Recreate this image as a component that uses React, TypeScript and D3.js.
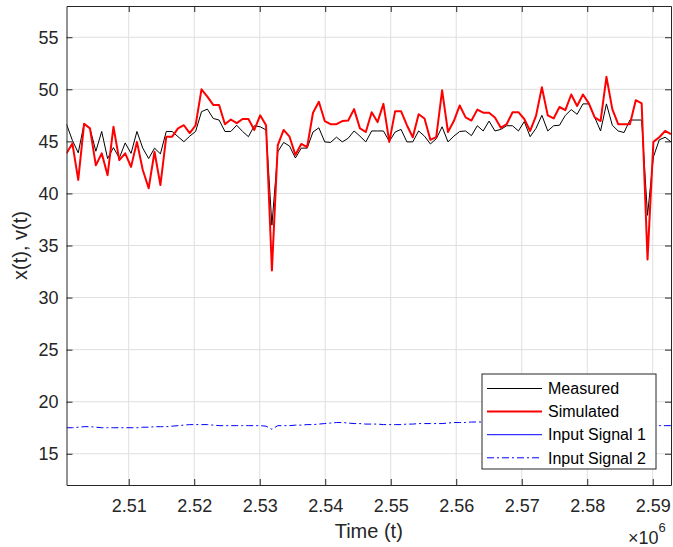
import React, { useEffect, useRef } from 'react';
import * as d3 from 'd3';

// sample times: one point every ~896 s starting at 2.5005e6
const startTime = 2500500;
const timeStep = 896;

const measured = [
  46.65, 45.1, 43.9, 46.7, 46.25, 44.05, 45.95, 43.35, 44.4, 43.4,
  44.85, 43.85, 45.95, 44.35, 43.35, 44.35, 43.8, 45.95, 45.95, 45.45,
  44.97, 45.5, 45.95, 47.85, 48.1, 47.2, 47.05, 45.95, 45.95, 46.55,
  45.95, 45.45, 46.5, 46.4, 46.1, 36.95, 44.0, 44.9, 44.55, 43.4,
  44.35, 44.35, 45.9, 46.3, 44.95, 44.9, 45.4, 44.95, 45.3, 46.0,
  45.5, 44.95, 46.0, 46.0, 46.0, 45.0, 45.9, 46.15, 44.95, 44.95,
  46.0, 45.5, 44.75, 45.25, 46.4, 44.95, 45.5, 45.95, 46.0, 45.55,
  46.5, 46.0, 46.95, 46.0, 46.15, 46.5, 46.5, 46.0, 46.9, 45.45,
  46.25, 47.5, 46.0, 46.5, 46.55, 47.5, 48.05, 47.6, 48.6, 48.6,
  47.3, 46.0, 48.6, 46.55, 46.0, 45.85, 47.05, 47.05, 47.05, 37.9,
  43.5, 45.15, 45.4, 44.95,
];

const simulated = [
  43.85, 44.8, 41.3, 46.7, 46.25, 42.7, 43.85, 41.75, 46.4, 43.2,
  43.85, 42.55, 44.95, 42.25, 40.5, 44.0, 40.8, 45.45, 45.45, 46.25,
  46.55, 45.8, 46.55, 50.0, 49.3, 48.5, 48.5, 46.65, 47.1, 46.75,
  47.15, 47.15, 46.1, 47.5, 46.55, 32.6, 44.65, 46.1, 45.45, 43.7,
  44.75, 44.45, 47.75, 48.8, 46.95, 46.65, 46.65, 46.95, 47.0, 48.1,
  46.25, 45.9, 47.8, 46.85, 48.6, 44.95, 47.9, 47.9, 46.55, 45.4,
  47.6, 47.2, 45.15, 45.4, 49.9, 45.9, 46.95, 48.45, 47.3, 47.0,
  48.05, 47.75, 47.75, 47.3, 46.3, 46.65, 47.8, 47.8, 47.15, 46.0,
  47.45, 50.2, 47.5, 47.2, 48.3, 48.0, 49.5, 48.4, 49.5, 48.65,
  47.3, 46.95, 51.2, 48.1, 46.65, 46.65, 46.65, 48.95, 48.65, 33.65,
  44.95, 45.4, 46.0, 45.7,
];

// input signal 1 never shows inside the visible y range
const input1: number[] = [];

const input2 = [
  17.5, 17.5, 17.55, 17.6, 17.6, 17.55, 17.5, 17.5, 17.5, 17.5,
  17.5, 17.5, 17.5, 17.55, 17.55, 17.6, 17.6, 17.6, 17.65, 17.7,
  17.75, 17.8, 17.8, 17.8, 17.8, 17.75, 17.7, 17.7, 17.7, 17.7,
  17.7, 17.7, 17.7, 17.7, 17.65, 17.35, 17.7, 17.7, 17.7, 17.75,
  17.75, 17.8, 17.8, 17.85, 17.9, 17.95, 18.0, 18.0, 17.95, 17.9,
  17.9, 17.85, 17.85, 17.85, 17.8, 17.8, 17.8, 17.8, 17.85, 17.85,
  17.9, 17.9, 17.9, 17.9, 17.9, 17.95, 18.0, 18.0, 18.0, 18.05,
  18.05, 18.05, 18.0, 18.0, 18.0, 17.95, 17.95, 17.9, 17.9, 17.9,
  17.9, 17.85, 17.85, 17.85, 17.8, 17.8, 17.8, 17.8, 17.8, 17.75,
  17.75, 17.75, 17.75, 17.75, 17.7, 17.7, 17.7, 17.7, 17.7, 17.7,
  17.7, 17.7, 17.7, 17.7,
];

const xTicks = [2.51e6, 2.52e6, 2.53e6, 2.54e6, 2.55e6, 2.56e6, 2.57e6, 2.58e6, 2.59e6];
const yTicks = [15, 20, 25, 30, 35, 40, 45, 50, 55];
const legendLabels = ['Measured', 'Simulated', 'Input Signal 1', 'Input Signal 2'];

const width = 673, height = 547;
const left = 66.5, right = 671, top = 6, bottom = 485;
const font = '"Liberation Sans", Arial, sans-serif';
const axisColor = '#262626';

function Chart() {
  const ref = useRef<SVGSVGElement>(null);

  useEffect(() => {
    const svg = d3.select(ref.current);
    svg.selectAll('*').remove();

    const times = measured.map((_, i) => startTime + i * timeStep);

    const x = d3.scaleLinear()
      .domain(d3.extent(times) as [number, number])
      .range([left, right]);
    const y = d3.scaleLinear()
      .domain([12, 58])
      .range([bottom, top]);

    svg.append('rect')
      .attr('x', left).attr('y', top)
      .attr('width', right - left).attr('height', bottom - top)
      .attr('fill', '#fff');

    svg.append('clipPath').attr('id', 'plotclip')
      .append('rect')
        .attr('x', left).attr('y', top)
        .attr('width', right - left).attr('height', bottom - top);

    // grid
    const grid = svg.append('g').attr('stroke', '#dfdfdf').attr('stroke-width', 1);
    grid.selectAll('.gx').data(xTicks).enter().append('line')
      .attr('x1', d => x(d)).attr('x2', d => x(d))
      .attr('y1', top).attr('y2', bottom);
    grid.selectAll('.gy').data(yTicks).enter().append('line')
      .attr('x1', left).attr('x2', right)
      .attr('y1', d => y(d)).attr('y2', d => y(d));

    // series
    const plot = svg.append('g').attr('clip-path', 'url(#plotclip)');
    const line = d3.line<number>()
      .x((_, i) => x(times[i]))
      .y(d => y(d));

    plot.append('path').datum(input2)
      .attr('d', line)
      .attr('fill', 'none')
      .attr('stroke', '#0000ff')
      .attr('stroke-width', 1)
      .attr('stroke-dasharray', '7,3,2,3');
    plot.append('path').datum(input1)
      .attr('d', line)
      .attr('fill', 'none')
      .attr('stroke', '#0000ff')
      .attr('stroke-width', 1);
    plot.append('path').datum(measured)
      .attr('d', line)
      .attr('fill', 'none')
      .attr('stroke', '#000')
      .attr('stroke-width', 1);
    plot.append('path').datum(simulated)
      .attr('d', line)
      .attr('fill', 'none')
      .attr('stroke', '#ff0000')
      .attr('stroke-width', 2)
      .attr('stroke-linejoin', 'round');

    // axes (ticks point inward, like matlab)
    const styleAxis = (g: any) => {
      g.select('.domain').attr('stroke', axisColor);
      g.selectAll('.tick line').attr('stroke', axisColor);
      g.selectAll('.tick text')
        .attr('fill', axisColor)
        .style('font-family', font)
        .style('font-size', '18px');
    };

    svg.append('g')
      .attr('transform', `translate(0,${bottom})`)
      .call(d3.axisBottom(x).tickValues(xTicks).tickSizeInner(-6).tickSizeOuter(0).tickPadding(14)
        .tickFormat(d => (+d / 1e6).toFixed(2)))
      .call(styleAxis);
    svg.append('g')
      .attr('transform', `translate(0,${top})`)
      .call(d3.axisTop(x).tickValues(xTicks).tickSizeInner(-6).tickSizeOuter(0).tickFormat(() => ''))
      .call(styleAxis);
    svg.append('g')
      .attr('transform', `translate(${left},0)`)
      .call(d3.axisLeft(y).tickValues(yTicks).tickSizeInner(-6).tickSizeOuter(0).tickPadding(8))
      .call(styleAxis);
    svg.append('g')
      .attr('transform', `translate(${right},0)`)
      .call(d3.axisRight(y).tickValues(yTicks).tickSizeInner(-6).tickSizeOuter(0).tickFormat(() => ''))
      .call(styleAxis);

    // axis labels
    svg.append('text')
      .attr('x', (left + right) / 2).attr('y', 538)
      .attr('text-anchor', 'middle')
      .attr('fill', axisColor)
      .style('font-family', font).style('font-size', '20px')
      .text('Time (t)');
    svg.append('text')
      .attr('transform', `translate(27,${(top + bottom) / 2}) rotate(-90)`)
      .attr('text-anchor', 'middle')
      .attr('fill', axisColor)
      .style('font-family', font).style('font-size', '20px')
      .text('x(t), v(t)');

    const expo = svg.append('text')
      .attr('x', 628).attr('y', 544)
      .attr('fill', axisColor)
      .style('font-family', font).style('font-size', '18px');
    expo.append('tspan').text('\u00d710');
    expo.append('tspan').attr('dy', -12).style('font-size', '13px').text('6');

    // legend
    const lg = svg.append('g');
    lg.append('rect')
      .attr('x', 482).attr('y', 374)
      .attr('width', 174).attr('height', 95)
      .attr('fill', '#fff')
      .attr('stroke', axisColor)
      .attr('stroke-width', 1);
    const styles = [
      { color: '#000', w: 1, dash: null },
      { color: '#ff0000', w: 2, dash: null },
      { color: '#0000ff', w: 1, dash: null },
      { color: '#0000ff', w: 1, dash: '7,3,2,3' },
    ];
    legendLabels.forEach((name, k) => {
      const ly = 388.5 + k * 23.1;
      lg.append('line')
        .attr('x1', 487).attr('x2', 542)
        .attr('y1', ly).attr('y2', ly)
        .attr('stroke', styles[k].color)
        .attr('stroke-width', styles[k].w)
        .attr('stroke-dasharray', styles[k].dash);
      lg.append('text')
        .attr('x', 548).attr('y', ly)
        .attr('dy', '0.36em')
        .attr('fill', '#000')
        .style('font-family', font).style('font-size', '16px')
        .text(name);
    });
  }, []);

  return (
    <svg ref={ref} width={width} height={height}
      style={{ position: 'absolute', left: 0, top: 0, background: '#fff' }} />
  );
}

export default function App() {
  return <Chart />;
}
